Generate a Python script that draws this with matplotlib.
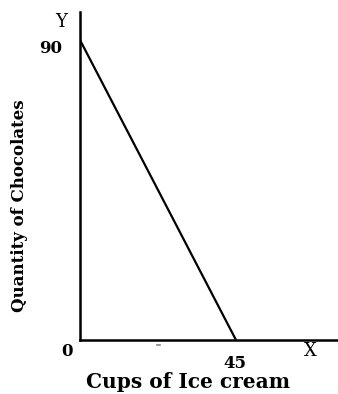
import matplotlib
matplotlib.use("Agg")
import matplotlib.pyplot as plt

x_values = [0, 45]
y_values = [90, 0]
x_tick_labels = ["0", "45", "X"]
y_tick_labels = ["90", "Y"]
x_label = "Cups of Ice cream"
y_label = "Quantity of Chocolates"

fig = plt.figure(figsize=(3.38, 3.94), dpi=100)
ax = fig.add_axes([80/338, 54/394, 258/338, 328/394])
ax.set_xlim(0, 45*258/156)
ax.set_ylim(0, 90*328/300)
ax.plot(x_values, y_values, color="black", lw=1.6, solid_capstyle="butt")
for s in ["top", "right"]:
    ax.spines[s].set_visible(False)
for s in ["left", "bottom"]:
    ax.spines[s].set_linewidth(1.8)
ax.set_xticks([]); ax.set_yticks([])
font = dict(family="DejaVu Serif", fontsize=12, color="black", fontweight="bold",
            ha="center", va="center", clip_on=False)
ax.text(-3.8, -3.6, x_tick_labels[0], **font)
ax.text(44.7, -6.9, x_tick_labels[1], **font)
ax.text(66.3, -3.3, x_tick_labels[2], **dict(font, fontsize=13, fontweight="normal"))
ax.text(-8.4, 87.6, y_tick_labels[0], **font)
ax.text(-5.5, 95.4, y_tick_labels[1], **dict(font, fontsize=13, fontweight="normal"))
# faint stray mark under the x axis
ax.plot([22.2, 23.2], [-1.6, -1.6], color="#888888", lw=1.2, clip_on=False)
fig.text(188/338, 1-382/394, x_label, ha="center", va="center",
         family="DejaVu Serif", fontsize=14.5, fontweight="bold")
fig.text(20/338, 1-206/394, y_label, ha="center", va="center", rotation=90,
         family="DejaVu Serif", fontsize=12, fontweight="bold")
fig.savefig("out.png", dpi=100)
